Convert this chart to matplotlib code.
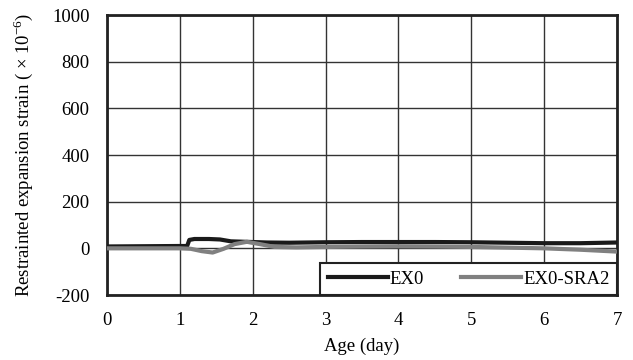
import matplotlib
matplotlib.use("Agg")
import matplotlib.pyplot as plt

plt.rcParams['font.family'] = ['Liberation Serif', 'DejaVu Serif']
plt.rcParams['mathtext.fontset'] = 'custom'
plt.rcParams['mathtext.rm'] = 'Liberation Serif'
plt.rcParams['axes.unicode_minus'] = False

# Data
ex0_days = [0.0, 0.5, 1.0, 1.10, 1.13, 1.2, 1.4, 1.55, 1.7, 1.9, 2.2, 2.5, 3.0, 3.5, 4.0, 4.5, 5.0, 5.5, 6.0, 6.5, 7.0]
ex0_vals = [8, 9, 10, 10, 36, 40, 40, 38, 30, 28, 25, 24, 26, 27, 27, 27, 26, 24, 22, 22, 25]

sra_days = [0.0, 0.5, 1.0, 1.15, 1.3, 1.45, 1.6, 1.75, 1.92, 2.1, 2.3, 2.6, 3.0, 3.5, 4.0, 4.5, 5.0, 5.5, 6.0, 6.5, 7.0]
sra_vals = [0, 0, 0, -2, -12, -18, -2, 18, 28, 18, 6, 4, 6, 8, 9, 8, 6, 3, 0, -6, -14]

xticks = [0, 1, 2, 3, 4, 5, 6, 7]
yticks = [-200, 0, 200, 400, 600, 800, 1000]

fs = 13.5

fig = plt.figure(figsize=(6.33, 3.6), dpi=100)
ax = fig.add_axes([107/633, 1-295/360, 510/633, 280/360])

ax.plot(ex0_days, ex0_vals, color='#1a1a1a', lw=3.0, label='EX0', zorder=3)
ax.plot(sra_days, sra_vals, color='#808080', lw=3.0, label='EX0-SRA2', zorder=3)

ax.set_xlim(0, 7)
ax.set_ylim(-200, 1000)
ax.set_xticks(xticks)
ax.set_yticks(yticks)
ax.grid(True, color='#333333', lw=1.0)
ax.tick_params(length=0, labelsize=fs, pad=12.5)
for s in ax.spines.values():
    s.set_linewidth(2.0)
    s.set_color('#222222')

ax.set_xlabel('Age (day)', fontsize=fs, labelpad=6)
ax.set_ylabel('Restrainted expansion strain ( \u00d7 10$^{-6}$)', fontsize=fs, labelpad=12)

leg = ax.legend(loc='lower right', ncol=2, frameon=True, fancybox=False,
                fontsize=fs, handlelength=3.2, handletextpad=0.1,
                columnspacing=2.0, borderaxespad=0, borderpad=0.4,
                bbox_to_anchor=(1.0, 0.0))
leg.get_frame().set_edgecolor('#222222')
leg.get_frame().set_linewidth(1.5)
leg.get_frame().set_alpha(1)

fig.savefig('out.png', dpi=100)
